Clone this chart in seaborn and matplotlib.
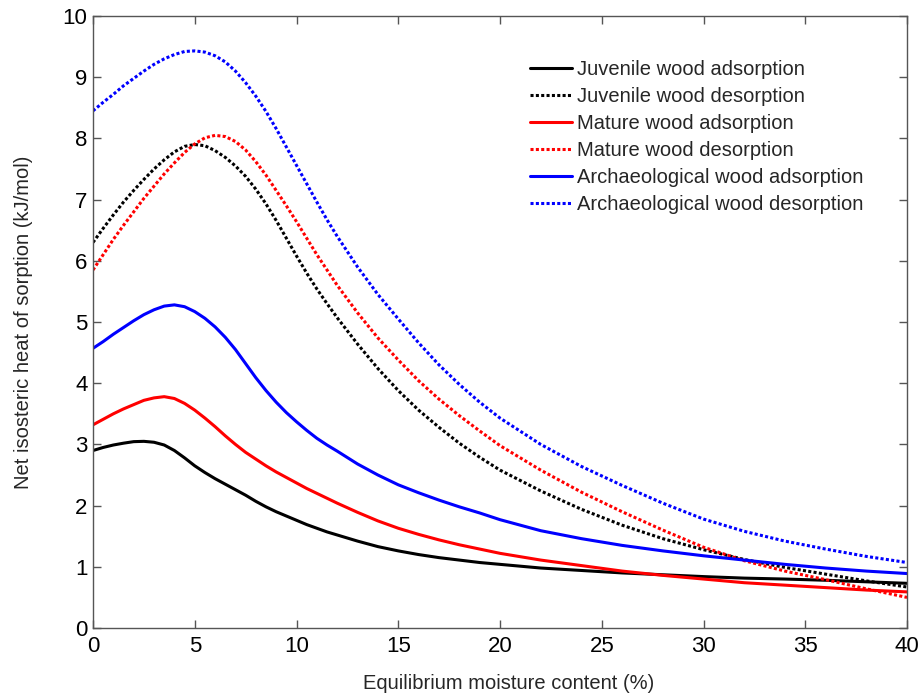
import numpy as np
import pandas as pd
import matplotlib
matplotlib.use("Agg")
import matplotlib.pyplot as plt
import seaborn as sns

# ---- data ----
emc = [0, 0.5, 1, 1.5, 2, 2.5, 3, 3.5, 4, 4.5, 5, 5.5, 6, 6.5, 7, 7.5, 8, 8.5,
       9, 9.5, 10, 10.5, 11, 11.5, 12,
       13, 14, 15, 16, 17, 18, 19, 20,
       22, 24, 26, 28, 30, 32, 34, 36, 38, 40]

juvenile_ads = [2.90, 2.95, 2.99, 3.02, 3.045, 3.05, 3.035, 2.99, 2.90, 2.78,
                2.65, 2.54, 2.44, 2.35, 2.26, 2.17, 2.07, 1.98, 1.90, 1.83,
                1.76, 1.69, 1.63, 1.57, 1.52,
                1.42, 1.33, 1.26, 1.20, 1.15, 1.11, 1.07, 1.04,
                0.98, 0.94, 0.90, 0.87, 0.84, 0.815, 0.80, 0.78, 0.755, 0.73]
juvenile_des = [6.30, 6.53, 6.75, 6.96, 7.15, 7.33, 7.50, 7.65, 7.78, 7.87,
                7.90, 7.88, 7.80, 7.69, 7.55, 7.38, 7.17, 6.93, 6.66, 6.37,
                6.08, 5.80, 5.54, 5.30, 5.07,
                4.64, 4.24, 3.88, 3.56, 3.28, 3.02, 2.79, 2.58,
                2.24, 1.94, 1.68, 1.46, 1.28, 1.12, 0.99, 0.88, 0.77, 0.67]
mature_ads = [3.32, 3.41, 3.50, 3.58, 3.65, 3.72, 3.76, 3.78, 3.75, 3.67,
              3.56, 3.43, 3.29, 3.14, 3.00, 2.87, 2.76, 2.65, 2.55, 2.46,
              2.37, 2.28, 2.20, 2.12, 2.04,
              1.89, 1.75, 1.63, 1.53, 1.44, 1.36, 1.29, 1.22,
              1.11, 1.02, 0.93, 0.86, 0.80, 0.74, 0.70, 0.66, 0.62, 0.59]
mature_des = [5.85, 6.10, 6.35, 6.58, 6.80, 7.02, 7.22, 7.42, 7.60, 7.77,
              7.91, 8.01, 8.05, 8.03, 7.95, 7.81, 7.62, 7.40, 7.15, 6.90,
              6.64, 6.37, 6.10, 5.85, 5.60,
              5.15, 4.74, 4.38, 4.04, 3.74, 3.47, 3.22, 2.98,
              2.58, 2.22, 1.90, 1.60, 1.32, 1.10, 0.93, 0.79, 0.64, 0.50]
arch_ads = [4.57, 4.68, 4.80, 4.91, 5.02, 5.12, 5.20, 5.26, 5.28, 5.25,
            5.17, 5.06, 4.92, 4.75, 4.55, 4.32, 4.09, 3.88, 3.69, 3.52,
            3.37, 3.23, 3.10, 2.99, 2.89,
            2.68, 2.50, 2.34, 2.21, 2.09, 1.98, 1.88, 1.77,
            1.59, 1.46, 1.35, 1.26, 1.18, 1.11, 1.04, 0.98, 0.93, 0.89]
arch_des = [8.45, 8.59, 8.72, 8.86, 8.98, 9.10, 9.21, 9.30, 9.37, 9.42,
            9.43, 9.41, 9.35, 9.25, 9.10, 8.91, 8.69, 8.44, 8.16, 7.86,
            7.56, 7.26, 6.96, 6.67, 6.40,
            5.90, 5.45, 5.05, 4.66, 4.30, 3.98, 3.69, 3.43,
            3.00, 2.64, 2.33, 2.04, 1.78, 1.58, 1.42, 1.29, 1.17, 1.07]

labels = ["Juvenile wood adsorption", "Juvenile wood desorption",
          "Mature wood adsorption", "Mature wood desorption",
          "Archaeological wood adsorption", "Archaeological wood desorption"]
series = [juvenile_ads, juvenile_des, mature_ads, mature_des, arch_ads, arch_des]
colors = ["black", "black", "#ff0000", "#ff0000", "#0000ff", "#0000ff"]
dashed = [False, True, False, True, False, True]

x_ticks = [0, 5, 10, 15, 20, 25, 30, 35, 40]
y_ticks = [0, 1, 2, 3, 4, 5, 6, 7, 8, 9, 10]

# ---- style ----
sns.set_style("ticks")
plt.rcParams["font.family"] = ["Liberation Sans", "DejaVu Sans"]

fig = plt.figure(figsize=(9.21, 6.95), dpi=100)
ax = fig.add_axes([93 / 921, 1 - 628 / 695, 814 / 921, 612 / 695])

for lab, ys, c, d in zip(labels, series, colors, dashed):
    df = pd.DataFrame({"x": emc, "y": ys})
    ls = (0, (1.0, 0.75)) if d else "-"
    sns.lineplot(data=df, x="x", y="y", ax=ax, color=c, linewidth=2.2,
                 linestyle=ls, label=lab, sort=False, estimator=None)

ax.set_xlim(0, 40)
ax.set_ylim(0, 10)
ax.set_xticks(x_ticks)
ax.set_yticks(y_ticks)
ax.set_xticklabels([str(t) for t in x_ticks])
ax.set_yticklabels([str(t) for t in y_ticks])
ax.tick_params(direction="in", length=6, width=1, color="#555555",
               labelsize=16, top=True, right=True, labelcolor="black")
ax.tick_params(axis="x", pad=6)
ax.tick_params(axis="y", pad=4)
for sp in ax.spines.values():
    sp.set_visible(True)
    sp.set_color("#555555")
    sp.set_linewidth(1.0)

ax.set_xlabel("Equilibrium moisture content (%)", fontsize=14.5, labelpad=12)
ax.xaxis.label.set_x(0.511)
ax.set_ylabel("Net isosteric heat of sorption (kJ/mol)", fontsize=14.5, labelpad=21)

leg = ax.legend(loc="upper left", bbox_to_anchor=(0.537, 0.928), frameon=False,
                fontsize=14.5, handlelength=2.1, handletextpad=0.25,
                labelspacing=0.40, borderaxespad=0, borderpad=0)

fig.savefig("out.png", dpi=100)
